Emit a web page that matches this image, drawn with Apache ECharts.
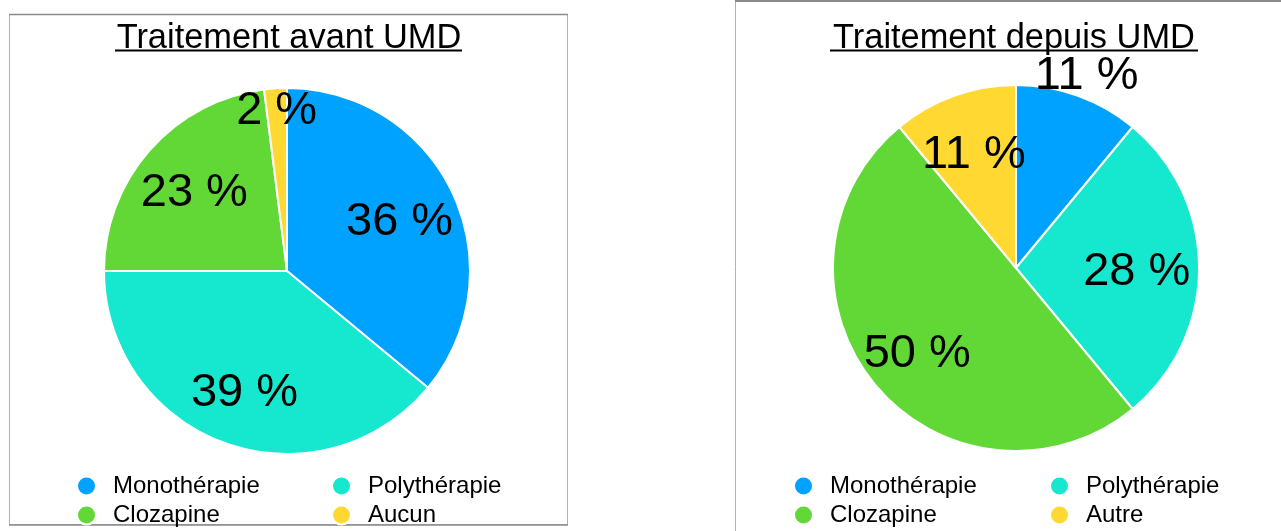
<!DOCTYPE html>
<html>
<head>
<meta charset="utf-8">
<script src="https://cdn.jsdelivr.net/npm/echarts@6/dist/echarts.min.js"></script>
<style>
  html, body { margin: 0; padding: 0; background: #fff; overflow: hidden; }
  #chart { width: 1281px; height: 531px; }
</style>
</head>
<body>
<div id="chart"></div>
<script>
// data
var categoriesAvant = ['Monothérapie', 'Polythérapie', 'Clozapine', 'Aucun'];
var valuesAvant = [36, 39, 23, 2];
var categoriesDepuis = ['Monothérapie', 'Polythérapie', 'Clozapine', 'Autre'];
var valuesDepuis = [11, 28, 50, 11];
var titleAvant = 'Traitement avant UMD';
var titleDepuis = 'Traitement depuis UMD';

var colors = ['#00a2ff', '#16e7cf', '#61d836', '#ffd932'];
var font = '"Liberation Sans", Arial, sans-serif';

// how far out each label sits, as a share of the radius
var labelRadiusAvant = [0.68, 0.685, 0.675, 0.90];
var labelRadiusDepuis = [1.14, 0.66, 0.70, 0.68];

var R = 183;
var centerAvant = [287, 271];
var centerDepuis = [1016, 268];

var chart = echarts.init(document.getElementById('chart'));

function toData(names, values) {
  return names.map(function (n, i) {
    return { name: n, value: values[i], itemStyle: { color: colors[i] } };
  });
}

// place each label along the middle of its slice
function placeLabels(values, center, factors) {
  var total = values.reduce(function (a, b) { return a + b; }, 0);
  return function (p) {
    var before = 0;
    for (var i = 0; i < p.dataIndex; i++) before += values[i];
    var mid = (before + values[p.dataIndex] / 2) / total * 2 * Math.PI;
    var d = factors[p.dataIndex] * R;
    return {
      x: center[0] + d * Math.sin(mid),
      y: center[1] - d * Math.cos(mid) + 4,
      align: 'center',
      verticalAlign: 'middle'
    };
  };
}

function pieSeries(names, values, center, factors) {
  return {
    type: 'pie',
    radius: R,
    center: center,
    startAngle: 90,
    clockwise: true,
    silent: true,
    data: toData(names, values),
    itemStyle: { borderColor: '#fff', borderWidth: 2 },
    label: {
      position: 'inside',
      formatter: '{c} %',
      color: '#000',
      fontFamily: font,
      fontSize: 47
    },
    labelLine: { show: false },
    labelLayout: placeLabels(values, center, factors)
  };
}

// one legend per entry so the two columns line up
function legendItem(name, left, top) {
  return {
    data: [name],
    left: left,
    top: top,
    icon: 'circle',
    itemWidth: 19,
    itemHeight: 19,
    selectedMode: false,
    textStyle: { fontFamily: font, fontSize: 24, color: '#000', padding: [0, 0, 0, 12] }
  };
}

function legendGrid(names, left, colGap) {
  return [
    legendItem(names[0], left, 469),
    legendItem(names[1], left + colGap, 469),
    legendItem(names[2], left, 498),
    legendItem(names[3], left + colGap, 498)
  ];
}

var titleStyle = { fontFamily: font, fontSize: 34.4, fontWeight: 'normal', color: '#000' };

chart.setOption({
  animation: false,
  title: [
    { text: titleAvant, left: 289, top: 22, padding: 0, textAlign: 'center', textStyle: titleStyle },
    { text: titleDepuis, left: 1014, top: 22, padding: 0, textAlign: 'center', textStyle: titleStyle }
  ],
  legend: legendGrid(categoriesAvant, 71, 255).concat(legendGrid(categoriesDepuis, 788, 256)),
  graphic: [
    // frames
    { type: 'rect', silent: true, z: -1,
      shape: { x: 9.5, y: 14.5, width: 558, height: 510 },
      style: { fill: 'none', stroke: '#b0b0b0', lineWidth: 1 } },
    { type: 'line', silent: true, shape: { x1: 9, y1: 14.5, x2: 568, y2: 14.5 },
      style: { stroke: '#8a8a8a', lineWidth: 1.5 } },
    { type: 'line', silent: true, shape: { x1: 9, y1: 525, x2: 568, y2: 525 },
      style: { stroke: '#8a8a8a', lineWidth: 1.5 } },
    { type: 'rect', silent: true, z: -1,
      shape: { x: 735.5, y: 1, width: 700, height: 700 },
      style: { fill: 'none', stroke: '#b0b0b0', lineWidth: 1 } },
    { type: 'line', silent: true, shape: { x1: 735, y1: 1, x2: 1281, y2: 1 },
      style: { stroke: '#8a8a8a', lineWidth: 2 } },
    // title underlines
    { type: 'line', silent: true, shape: { x1: 115, y1: 50.5, x2: 462, y2: 50.5 },
      style: { stroke: '#000', lineWidth: 2 } },
    { type: 'line', silent: true, shape: { x1: 830, y1: 50.5, x2: 1198, y2: 50.5 },
      style: { stroke: '#000', lineWidth: 2 } }
  ],
  series: [
    pieSeries(categoriesAvant, valuesAvant, centerAvant, labelRadiusAvant),
    pieSeries(categoriesDepuis, valuesDepuis, centerDepuis, labelRadiusDepuis)
  ]
});
</script>
</body>
</html>
